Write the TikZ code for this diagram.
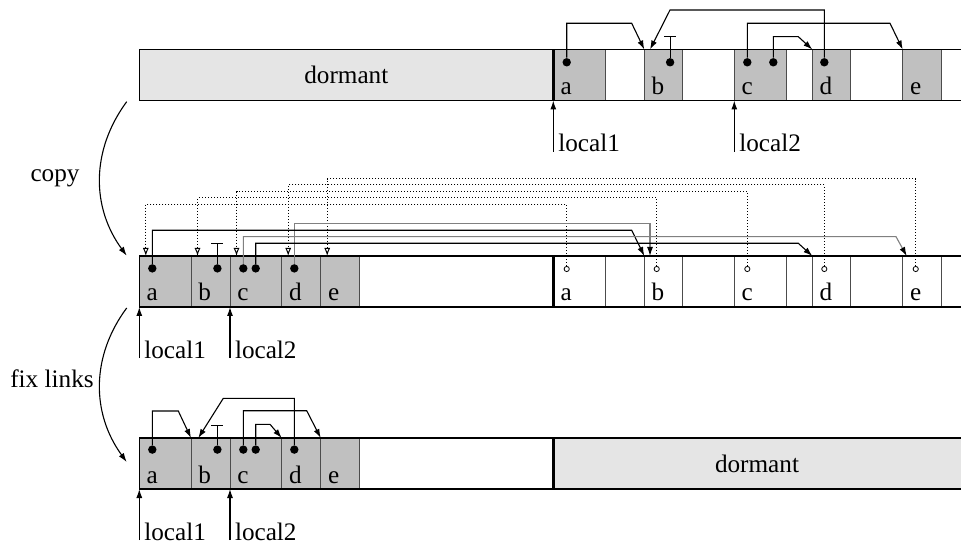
\documentclass[tikz,border=0pt]{standalone}
\usepackage{fontspec}
\setmainfont{Liberation Serif}
\usetikzlibrary{arrows.meta}
\definecolor{CellGray}{RGB}{192,192,192}
\definecolor{DormantGray}{RGB}{229,229,229}
\definecolor{LinkGray}{RGB}{128,128,128}

\begin{document}
\begin{tikzpicture}[x=0.5pt,y=-0.5pt,
      font=\fontsize{12.6}{15}\selectfont,
      cell/.style={draw=black!70,fill=CellGray,line width=0.5pt,minimum height=25.5pt,
                   inner sep=0,outer sep=0,anchor=north west},
      old/.style={cell,fill=white},
      lbl/.style={anchor=base west,inner sep=0,xshift=3.5pt,yshift=3pt},
      dot/.style={circle,fill=black,inner sep=0,minimum size=4.2pt},
      ring/.style={circle,draw=black,fill=white,line width=0.4pt,inner sep=0,minimum size=2.6pt},
      bar/.style={draw=black,line width=0.65pt},
      edge/.style={draw=black,line width=1.2pt},
      ptr/.style={-{Latex[length=4.5pt,width=3pt,color=black]},line width=0.55pt},
      fwd/.style={-{Latex[open,length=4pt,width=3pt]},line width=0.5pt,dash pattern=on 0.5pt off 1pt},
      nil/.style={-{Bar[width=6pt]},line width=0.55pt},
      lcl/.style={anchor=base west,inner sep=0,xshift=2.3pt}]
    \useasboundingbox (0,0) rectangle (961,544);
    % old space, before the copy
    \fill[DormantGray] (139.3,49.5) rectangle (553.3,100.5);
    \node (tdorm) at (346.3,75) {dormant};
    \foreach \n/\x/\w in {a/553.3/26,b/644.3/19.2,c/734.3/26.2,d/812.3/19.2,e/902.7/19.5}
      \node[cell,minimum width=\w pt,label={[lbl]south west:\n}] (t\n) at (\x,49.5) {};
    \draw[bar] (961,49.5) -- (139.3,49.5) -- (139.3,100.5) -- (961,100.5);
    \draw[edge] (553.3,49.5) -- (553.3,100.5);
    \node[dot] (ta1) at ([xshift=6.7pt,yshift=-6.4pt]ta.north west) {};
    \node[dot] (tb1) at ([xshift=12.9pt,yshift=-6.4pt]tb.north west) {};
    \node[dot] (tc1) at ([xshift=6.5pt,yshift=-6.4pt]tc.north west) {};
    \node[dot] (tc2) at ([xshift=19.5pt,yshift=-6.4pt]tc.north west) {};
    \node[dot] (td1) at ([xshift=6pt,yshift=-6.4pt]td.north west) {};
    \draw[ptr] (ta1.north) |- (631.7,23.3) -- (tb.north west);
    \draw[ptr] (td1.north) |- (670,10) -- ([xshift=2.85pt]tb.north west);
    \draw[ptr] (tc1.north) |- (890,23.3) -- (te.north west);
    \draw[ptr] (tc2.north) |- (798.3,36.7) -- (td.north west);
    \draw[nil] (tb1.north) -- (tb1 |- 0,36);

    % new space, after the copy
    \foreach \n/\x/\w in {a/139.3/25.85,b/191/19.5,c/230/25.85,d/281.7/19.5,e/320.7/19.3}
      \node[cell,minimum width=\w pt,label={[lbl]south west:\n}] (m\n) at (\x,256) {};
    \foreach \n/\x/\w in {a/553.3/26,b/644.3/19.2,c/734.3/26.2,d/812.3/19.2,e/902.7/19.5}
      \node[old,minimum width=\w pt,label={[lbl]south west:\n}] (o\n) at (\x,256) {};
    \draw[bar] (961,256) -- (139.3,256) -- (139.3,307) -- (961,307);
    \draw[edge] (553.3,256) -- (553.3,307);
    \node[dot] (ma1) at ([xshift=6.5pt,yshift=-6.2pt]ma.north west) {};
    \node[dot] (mb1) at ([xshift=13.2pt,yshift=-6.2pt]mb.north west) {};
    \node[dot] (mc1) at ([xshift=6.65pt,yshift=-6.2pt]mc.north west) {};
    \node[dot] (mc2) at ([xshift=12.85pt,yshift=-6.2pt]mc.north west) {};
    \node[dot] (md1) at ([xshift=6.3pt,yshift=-6.2pt]md.north west) {};
    \foreach \n/\s in {a/6.7,b/6.2,c/6.5,d/6,e/6.5}
      \node[ring] (o\n1) at ([xshift=\s pt,yshift=-6.5pt]o\n.north west) {};
    % forwarding pointers
    \foreach \n/\h in {a/204.3,b/198,c/191.7,d/185,e/178.7}
      \draw[fwd] (o\n1.north) -- (o\n1 |- 0,\h) -| ([xshift=3.25pt]m\n.north west);
    % links still into old space
    \draw[ptr,LinkGray] (md1.north) |- (650,223.3) -- ([xshift=2.85pt]ob.north west);
    \draw[ptr] (ma1.north) |- (631.7,230.3) -- (ob.north west);
    \draw[ptr,LinkGray] (mc1.north) |- (896,236.7) -- ([xshift=2pt]oe.north west);
    \draw[ptr] (mc2.north) |- (798.3,243.3) -- (od.north west);
    \draw[nil] (mb1.north) -- (mb1 |- 0,243.3);

    % after fixing the links
    \fill[DormantGray] (553.3,438) rectangle (961,489);
    \node (bdorm) at (757,463.5) {dormant};
    \foreach \n/\x/\w in {a/139.3/25.85,b/191/19.5,c/230/25.85,d/281.7/19.5,e/320.7/19.3}
      \node[cell,minimum width=\w pt,label={[lbl]south west:\n}] (b\n) at (\x,438) {};
    \draw[bar] (961,438) -- (139.3,438) -- (139.3,489) -- (961,489);
    \draw[edge] (553.3,438) -- (553.3,489);
    \node[dot] (ba1) at ([xshift=6.5pt,yshift=-5.8pt]ba.north west) {};
    \node[dot] (bb1) at ([xshift=13.2pt,yshift=-5.8pt]bb.north west) {};
    \node[dot] (bc1) at ([xshift=6.65pt,yshift=-5.8pt]bc.north west) {};
    \node[dot] (bc2) at ([xshift=12.85pt,yshift=-5.8pt]bc.north west) {};
    \node[dot] (bd1) at ([xshift=6.3pt,yshift=-5.8pt]bd.north west) {};
    \draw[ptr] (ba1.north) |- (178.3,411) -- (bb.north west);
    \draw[ptr] (bd1.north) |- (223.3,398.3) -- ([xshift=3.65pt]bb.north west);
    \draw[ptr] (bc1.north) |- (306.7,410.7) -- (be.north west);
    \draw[ptr] (bc2.north) |- (270,424.3) -- (bd.north west);
    \draw[nil] (bb1.north) -- (bb1 |- 0,425);

    % local pointers
    \foreach \c/\t/\x/\y/\txt in {tl1/ta/553.3/152/local1,tl2/tc/734.3/152/local2,
                                  ml1/ma/139.3/358/local1,ml2/mc/230/358/local2,
                                  bl1/ba/139.3/540/local1,bl2/bc/230/540/local2}{
      \coordinate (\c) at (\x,\y);
      \draw[ptr] (\c) -- (\t.south west);
      \node[lcl] (\c-txt) at (\c) {\txt};
    }

    % copy and fix steps
    \coordinate (cp1) at (126.7,101.7);
    \coordinate (cp2) at (126.7,255.7);
    \draw[ptr] (cp1) .. controls (91.1,150) and (91.1,207) .. (cp2);
    \node (copy) at (55,178) {copy};
    \coordinate (fx1) at (126.7,308);
    \coordinate (fx2) at (126.7,462);
    \draw[ptr] (fx1) .. controls (91.1,356) and (91.1,413) .. (fx2);
    \node (fix) at (52,379) {fix links};
  \end{tikzpicture}
\end{document}
